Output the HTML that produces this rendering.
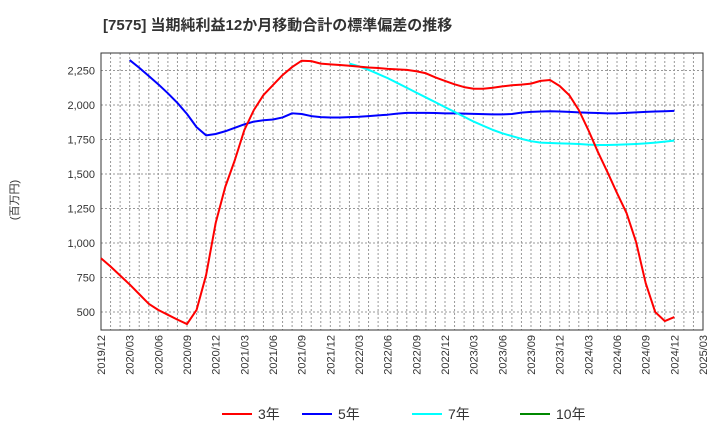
<!DOCTYPE html>
<html><head><meta charset="utf-8"><style>
body{margin:0;background:#fff;width:720px;height:440px;overflow:hidden;font-family:"Liberation Sans","Noto Sans CJK JP",sans-serif;}
</style></head><body>
<svg id="c" width="720" height="440" xmlns="http://www.w3.org/2000/svg" font-family="Liberation Sans, Noto Sans CJK JP, sans-serif">
<text x="103" y="30" font-size="15" font-weight="bold" fill="#333">[7575]  当期純利益12か月移動合計の標準偏差の推移</text>
<text transform="translate(18,200) rotate(-90)" font-size="11" text-anchor="middle" fill="#333">(百万円)</text>
<g id="grid"></g><g id="axes"></g><g id="series"></g>
<g>
<line x1="222" y1="414" x2="252" y2="414" stroke="#f00" stroke-width="2"/><text x="258" y="419" font-size="14" fill="#333">3年</text>
<line x1="302" y1="414" x2="332" y2="414" stroke="#00f" stroke-width="2"/><text x="338" y="419" font-size="14" fill="#333">5年</text>
<line x1="412" y1="414" x2="442" y2="414" stroke="#0ff" stroke-width="2"/><text x="448" y="419" font-size="14" fill="#333">7年</text>
<line x1="520" y1="414" x2="550" y2="414" stroke="#080" stroke-width="2"/><text x="556" y="419" font-size="14" fill="#333">10年</text>
</g>
</svg>
<script>
const xTickLabels=["2019/12","2020/03","2020/06","2020/09","2020/12","2021/03","2021/06","2021/09","2021/12","2022/03","2022/06","2022/09","2022/12","2023/03","2023/06","2023/09","2023/12","2024/03","2024/06","2024/09","2024/12","2025/03"];
const yTicks=[500,750,1000,1250,1500,1750,2000,2250];
const s3=[890,830,765,700,630,560,515,480,445,413,515,768,1145,1406,1600,1819,1964,2072,2145,2217,2275,2321,2318,2300,2295,2290,2285,2278,2272,2268,2262,2258,2255,2245,2230,2200,2175,2150,2130,2118,2118,2125,2135,2143,2148,2155,2175,2181,2138,2072,1964,1819,1660,1514,1362,1217,1007,710,500,435,464];
const s5Start=3;
const s5=[2326,2270,2210,2150,2085,2015,1935,1840,1780,1790,1810,1835,1860,1880,1890,1895,1910,1940,1935,1920,1912,1910,1910,1912,1915,1920,1925,1930,1938,1943,1943,1943,1942,1940,1940,1938,1936,1934,1932,1932,1935,1945,1950,1953,1955,1953,1950,1947,1944,1942,1940,1940,1943,1947,1950,1953,1955,1958];
const s7Start=26;
const s7=[2300,2280,2255,2225,2195,2160,2125,2090,2055,2020,1985,1950,1915,1880,1850,1820,1795,1775,1755,1738,1728,1725,1722,1720,1718,1713,1710,1710,1712,1715,1718,1722,1728,1735,1742];
const s10=[];
const L=101,R=703,T=53,B=330,ymin=370,ymax=2377,nMonths=63;
const X=i=>L+i*(R-L)/nMonths;
const Y=v=>B-(v-ymin)*(B-T)/(ymax-ymin);
const NS="http://www.w3.org/2000/svg";
function mk(p,t,a){const e=document.createElementNS(NS,t);for(const k in a)e.setAttribute(k,a[k]);p.appendChild(e);return e;}
const g=document.getElementById('grid'),ax=document.getElementById('axes'),sg=document.getElementById('series');
for(let i=1;i<nMonths;i++){const l=mk(g,'line',{x1:X(i),x2:X(i),y1:T,y2:B,stroke:'#999','stroke-dasharray':'2,2','stroke-width':1});

}
yTicks.forEach(v=>{const l=mk(g,'line',{x1:L,x2:R,y1:Y(v),y2:Y(v),stroke:'#999','stroke-dasharray':'2,2','stroke-width':1});


const t=mk(ax,'text',{x:L-6,y:Y(v)+4,'font-size':11,'text-anchor':'end',fill:'#333'});t.textContent=v.toLocaleString('en-US');

});
xTickLabels.forEach((s,k)=>{const x=X(k*3);const t=mk(ax,'text',{transform:`translate(${x+4},${B+5}) rotate(-90)`,'font-size':11,'text-anchor':'end',fill:'#333'});t.textContent=s;

});
const fr=mk(ax,'rect',{x:L,y:T,width:R-L,height:B-T,fill:'none',stroke:'#333','stroke-width':1});


function line(arr,start,color,name){if(!arr.length)return;const p=mk(sg,'polyline',{points:arr.map((v,i)=>X(start+i)+','+Y(v)).join(' '),fill:'none',stroke:color,'stroke-width':2,'stroke-linejoin':'round'});

}
line(s5,s5Start,'#00f','series-5y');
line(s7,s7Start,'#0ff','series-7y');
line(s3,0,'#f00','series-3y');
line(s10,0,'#080','series-10y');
</script>
</body></html>
